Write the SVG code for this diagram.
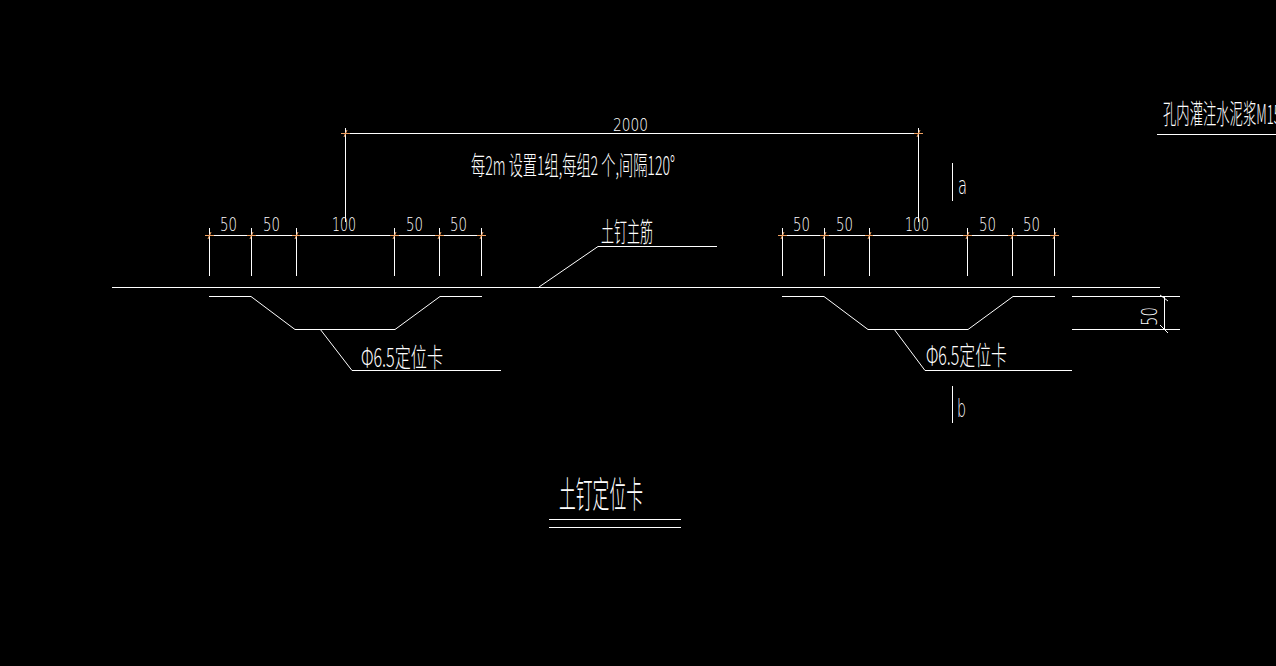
<svg xmlns="http://www.w3.org/2000/svg" width="1276" height="666" viewBox="0 0 1276 666">
<style>
.l{stroke:#fff;stroke-width:1;fill:none;shape-rendering:crispEdges}
.d{stroke:#fff;stroke-width:1;fill:none}
.o{stroke:#f0a060;stroke-width:1;fill:none}
text{fill:#fff;font-family:"Noto Sans CJK SC","DejaVu Sans",sans-serif;font-weight:300}
.n{font-family:"DejaVu Sans","Liberation Sans",sans-serif;font-size:19px;font-weight:200}
</style>
<defs>
<g id="ticks">
<path class="l" d="M209.500 228V276M251.500 228V276M296.500 228V276M394.500 228V276M439.500 228V276M481.500 228V276M209 235.500H481"/>
<path class="o" d="M205 235.500H214M208 239L211 232M247 235.500H256M250 239L253 232M292 235.500H300M295 239L298 232M390 235.500H399M393 239L396 232M435 235.500H444M438 239L441 232M477 235.500H486M480 239L483 232"/>
</g>
<path id="clip" class="d" d="M209 296.500H251L295 329.500H395L440 296.500H482"/>
</defs>
<rect width="1276" height="666" fill="#000"/>
<g id="connectors">
<path class="l" d="M112 287.500H1160"/>
<path class="l" d="M345.500 128V222M918.500 128V222M345 133.500H918"/>
<path class="o" d="M341 133.500H350M344 137L347 130M914 133.500H923M917 137L920 130"/>
<use href="#ticks"/>
<use href="#ticks" x="573"/>
<use href="#clip"/>
<use href="#clip" x="573"/>
<path class="d" d="M320 329L352 370.500H501"/>
<path class="d" d="M894 329L925 370.500H1072"/>
<path class="d" d="M539 287L598 246.500H717"/>
<path class="l" d="M1072 296.500H1180M1072 329.500H1180M1164.500 296V329"/>
<path class="d" d="M1160 295L1168 301M1160 325L1168 333"/>
<path class="l" d="M1157 134.500H1276"/>
<path class="l" d="M952.500 163V201M952.500 386V423"/>
<path class="l" d="M549 519.500H681M549 527.500H681"/>
</g>
<g id="labels">
<text class="n" x="220" y="231" textLength="17" lengthAdjust="spacingAndGlyphs">50</text>
<text class="n" x="263" y="231" textLength="17" lengthAdjust="spacingAndGlyphs">50</text>
<text class="n" x="332" y="231" textLength="24" lengthAdjust="spacingAndGlyphs">100</text>
<text class="n" x="406" y="231" textLength="17" lengthAdjust="spacingAndGlyphs">50</text>
<text class="n" x="450" y="231" textLength="17" lengthAdjust="spacingAndGlyphs">50</text>
<text class="n" x="793" y="231" textLength="17" lengthAdjust="spacingAndGlyphs">50</text>
<text class="n" x="836" y="231" textLength="17" lengthAdjust="spacingAndGlyphs">50</text>
<text class="n" x="905" y="231" textLength="24" lengthAdjust="spacingAndGlyphs">100</text>
<text class="n" x="979" y="231" textLength="17" lengthAdjust="spacingAndGlyphs">50</text>
<text class="n" x="1023" y="231" textLength="17" lengthAdjust="spacingAndGlyphs">50</text>
<text class="n" x="613" y="131" style="font-size:18px" textLength="35" lengthAdjust="spacingAndGlyphs">2000</text>
<text x="471" y="175" font-size="26" textLength="204" lengthAdjust="spacingAndGlyphs">每2m 设置1组,每组2 个,间隔120°</text>
<text x="601" y="242" font-size="27" textLength="52" lengthAdjust="spacingAndGlyphs">土钉主筋</text>
<text x="361" y="367" font-size="26" textLength="82" lengthAdjust="spacingAndGlyphs">Φ6.5定位卡</text>
<text x="926" y="365" font-size="26" textLength="81" lengthAdjust="spacingAndGlyphs">Φ6.5定位卡</text>
<text x="1163" y="124" font-size="27" textLength="118" lengthAdjust="spacingAndGlyphs">孔内灌注水泥浆M15</text>
<text class="n" style="font-size:21px" transform="translate(1157 326) rotate(-90)" textLength="19" lengthAdjust="spacingAndGlyphs">50</text>
<text x="958" y="194" font-size="24" style="font-family:'DejaVu Sans',sans-serif;font-weight:200" textLength="9" lengthAdjust="spacingAndGlyphs">a</text>
<text x="957" y="417" font-size="24" style="font-family:'DejaVu Sans',sans-serif;font-weight:200" textLength="9" lengthAdjust="spacingAndGlyphs">b</text>
<text x="559" y="508" font-size="36" textLength="84" lengthAdjust="spacingAndGlyphs">土钉定位卡</text>
</g>
</svg>
